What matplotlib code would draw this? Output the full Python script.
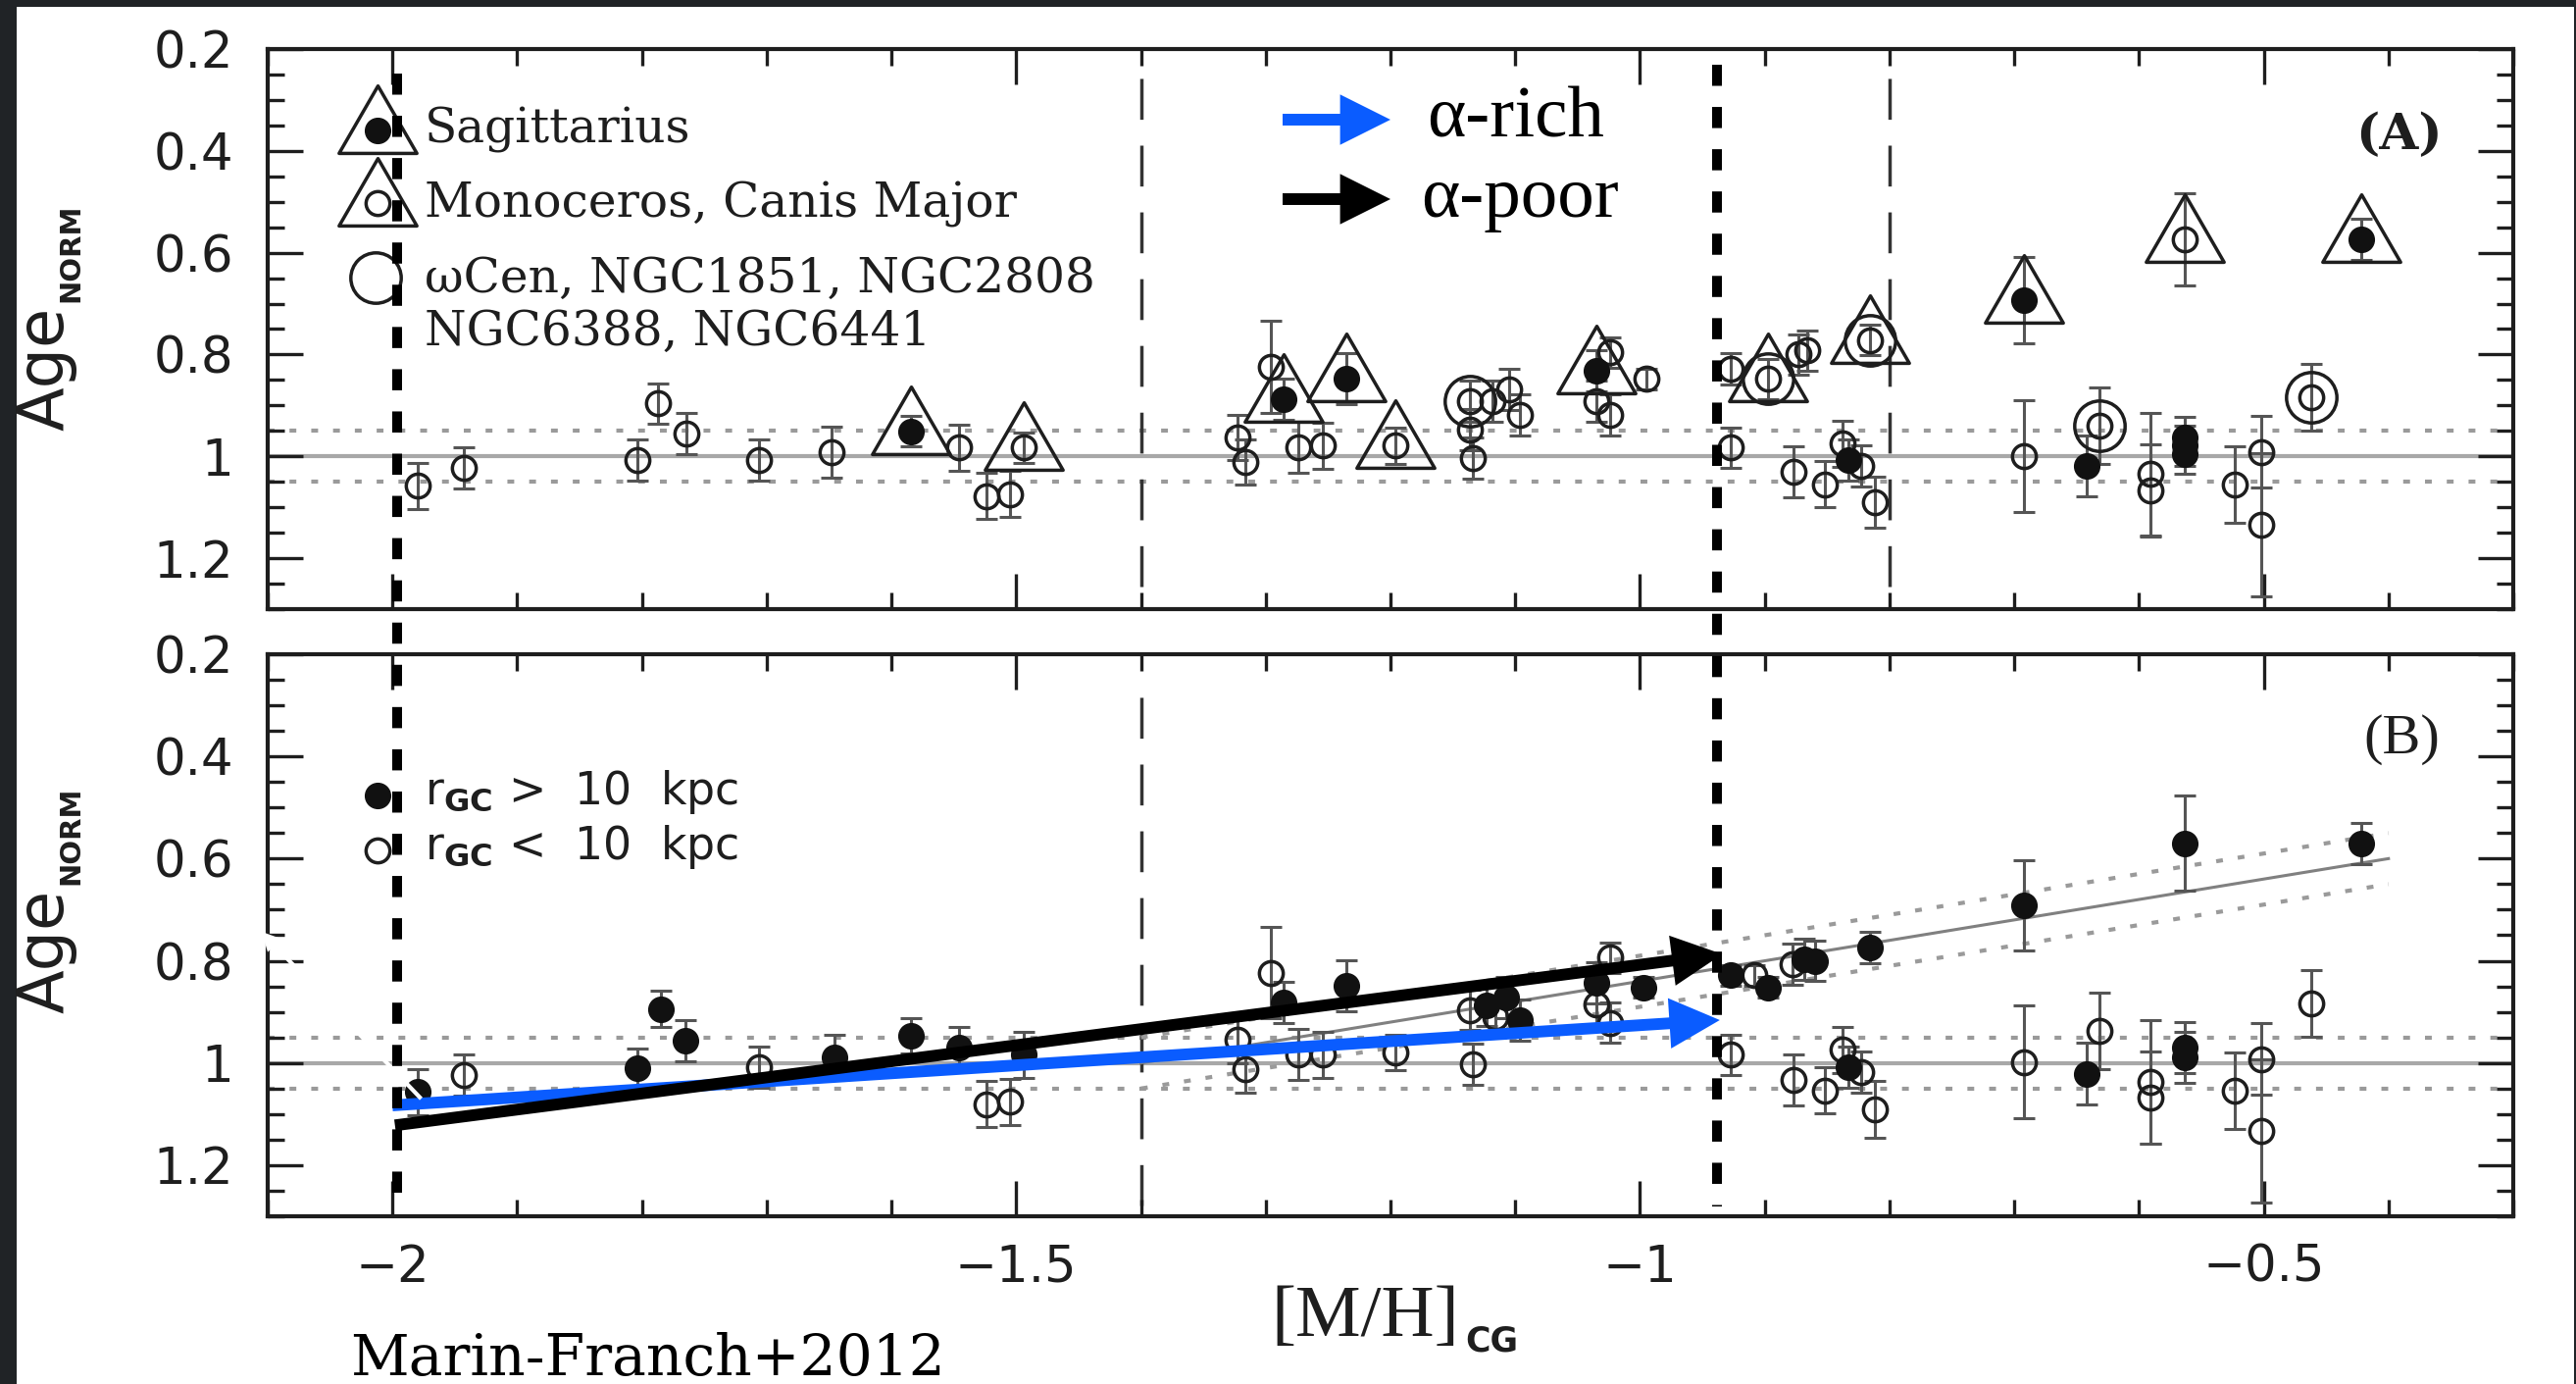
import matplotlib
matplotlib.use("Agg")
import matplotlib.pyplot as plt
import matplotlib.transforms as mtransforms
from matplotlib.path import Path
from matplotlib.patches import Rectangle, FancyArrowPatch
from matplotlib.lines import Line2D

W, H = 2627, 1411

# ---------------- data ----------------
# panel A: open circles
a_open_x = [-1.980, -1.943, -1.804, -1.787, -1.764, -1.706, -1.648, -1.546, -1.524, -1.505,
            -1.494, -1.323, -1.316, -1.296, -1.274, -1.254, -1.196, -1.136, -1.136, -1.134,
            -1.118, -1.105, -1.096, -1.024, -1.035, -1.024, -0.995, -0.927, -0.927, -0.897,
            -0.873, -0.866, -0.816, -0.877, -0.852, -0.838, -0.823, -0.812, -0.692, -0.632,
            -0.591, -0.591, -0.563, -0.462, -0.523, -0.502, -0.502]
a_open_y = [1.058, 1.023, 1.007, 0.896, 0.955, 1.007, 0.991, 0.983, 1.078, 1.074,
            0.983, 0.963, 1.011, 0.824, 0.983, 0.979, 0.979, 0.892, 0.947, 1.003,
            0.892, 0.868, 0.919, 0.796, 0.892, 0.919, 0.848, 0.983, 0.828, 0.848,
            0.800, 0.792, 0.772, 1.031, 1.055, 0.975, 1.019, 1.090, 0.999, 0.939,
            1.035, 1.067, 0.574, 0.884, 1.055, 0.991, 1.134]
a_open_err = [0.045, 0.04, 0.04, 0.04, 0.04, 0.04, 0.05, 0.045, 0.045, 0.045,
              0.03, 0.045, 0.045, 0.09, 0.05, 0.045, 0.035, 0.04, 0.04, 0.04,
              0.04, 0.04, 0.04, 0.03, 0.04, 0.04, 0.02, 0.04, 0.03, 0.04,
              0.04, 0.04, 0.03, 0.05, 0.045, 0.045, 0.04, 0.05, 0.11, 0.075,
              0.12, 0.09, 0.09, 0.065, 0.075, 0.07, 0.14]
# panel A: filled circles
a_fill_x = [-1.584, -1.286, -1.235, -1.035, -0.692, -0.422, -0.642, -0.563, -0.563, -0.563, -0.833]
a_fill_y = [0.951, 0.888, 0.848, 0.832, 0.693, 0.574, 1.019, 0.963, 0.979, 0.995, 1.007]
a_fill_err = [0.03, 0.04, 0.05, 0.04, 0.085, 0.04, 0.06, 0.04, 0.04, 0.04, 0.04]
# triangles (Sagittarius / Monoceros-Canis Major) and big rings
sgr_x = [-1.584, -1.286, -1.235, -1.035, -0.692, -0.422]
sgr_y = [0.951, 0.888, 0.848, 0.832, 0.693, 0.574]
mon_x = [-1.494, -1.196, -0.897, -0.816, -0.563]
mon_y = [0.983, 0.979, 0.848, 0.772, 0.574]
ring_x = [-1.136, -0.897, -0.816, -0.632, -0.462]
ring_y = [0.892, 0.848, 0.772, 0.939, 0.884]

# panel B: r_GC > 10 kpc (filled)
b_fill_x = [-1.980, -1.804, -1.785, -1.765, -1.646, -1.584, -1.546, -1.494, -1.286, -1.235,
            -1.123, -1.107, -1.096, -1.035, -0.997, -0.927, -0.897, -0.868, -0.860, -0.816,
            -0.833, -0.692, -0.642, -0.563, -0.563, -0.563, -0.422]
b_fill_y = [1.057, 1.011, 0.894, 0.957, 0.989, 0.947, 0.969, 0.984, 0.882, 0.848,
            0.887, 0.872, 0.916, 0.843, 0.852, 0.828, 0.852, 0.797, 0.800, 0.774,
            1.008, 0.692, 1.021, 0.570, 0.969, 0.989, 0.570]
b_fill_err = [0.045, 0.04, 0.035, 0.04, 0.045, 0.035, 0.04, 0.045, 0.04, 0.05,
              0.04, 0.04, 0.04, 0.04, 0.02, 0.02, 0.02, 0.04, 0.04, 0.03,
              0.04, 0.088, 0.06, 0.093, 0.05, 0.05, 0.04]
# panel B: r_GC < 10 kpc (open)
b_open_x = [-1.943, -1.706, -1.524, -1.505, -1.323, -1.316, -1.296, -1.274, -1.254, -1.196,
            -1.136, -1.134, -1.116, -1.024, -1.035, -1.024, -0.927, -0.908, -0.878, -0.877,
            -0.852, -0.838, -0.823, -0.812, -0.692, -0.632, -0.591, -0.591, -0.462, -0.523,
            -0.502, -0.502]
b_open_y = [1.023, 1.008, 1.081, 1.076, 0.955, 1.013, 0.823, 0.984, 0.984, 0.979,
            0.896, 1.003, 0.911, 0.794, 0.886, 0.921, 0.984, 0.828, 0.807, 1.033,
            1.054, 0.974, 1.018, 1.091, 0.998, 0.938, 1.037, 1.067, 0.884, 1.054,
            0.992, 1.133]
b_open_err = [0.04, 0.04, 0.045, 0.045, 0.045, 0.045, 0.09, 0.05, 0.045, 0.035,
              0.04, 0.04, 0.04, 0.03, 0.04, 0.04, 0.04, 0.02, 0.04, 0.05,
              0.045, 0.045, 0.04, 0.055, 0.11, 0.075, 0.12, 0.09, 0.065, 0.075,
              0.07, 0.14]

# linear trend in panel B and its band
fit_x = [-1.4, -0.4]
fit_y = [1.0, 0.6]
fit_band = 0.05

# overlay arrows: (start, end) in [M/H], Age
blue_arrow = [(-2.0, 1.083), (-0.936, 0.916)]
black_arrow = [(-1.998, 1.122), (-0.934, 0.787)]
white_arrow = [(-1.977, 1.07), (-2.105, 0.743)]
vline_x = [-1.996, -0.938]
boundary_x = [-1.4, -0.8]

xtick_vals = [-2, -1.5, -1, -0.5]
xtick_labels = ["\u22122", "\u22121.5", "\u22121", "\u22120.5"]
ytick_vals = [0.2, 0.4, 0.6, 0.8, 1.0, 1.2]
ytick_labels = ["0.2", "0.4", "0.6", "0.8", "1", "1.2"]

plt.rcParams["lines.scale_dashes"] = False
plt.rcParams["mathtext.fontset"] = "dejavusans"

INK = "#1e1e1e"
GRAY = "#555555"


def fx(px):
    return px / W


def fy(py):
    return 1 - py / H


fig = plt.figure(figsize=(W / 100, H / 100), dpi=100)
fig.patch.set_facecolor("#202326")
fig.add_artist(Rectangle((fx(17), 0), fx(2625) - fx(17), fy(7), transform=fig.transFigure,
                         facecolor="white", edgecolor="none", zorder=-10))

ax_a = fig.add_axes([fx(273), fy(621), fx(2563) - fx(273), fy(50) - fy(621)])
ax_b = fig.add_axes([fx(273), fy(1240), fx(2563) - fx(273), fy(667) - fy(1240)])

tri = Path([(0, 1), (-0.866, -0.5), (0.866, -0.5), (0, 1)],
           [Path.MOVETO, Path.LINETO, Path.LINETO, Path.CLOSEPOLY])

for ax in (ax_a, ax_b):
    ax.set_xlim(-2.1, -0.3)
    ax.set_ylim(1.3, 0.2)
    ax.set_xticks(xtick_vals)
    ax.set_xticks([-2.1 + 0.1 * i for i in range(19)], minor=True)
    ax.set_yticks(ytick_vals)
    ax.set_yticks([0.2 + 0.05 * i for i in range(23)], minor=True)
    ax.set_yticklabels(ytick_labels, fontsize=37, family="DejaVu Sans", color=INK)
    ax.tick_params(which="both", direction="in", top=True, right=True, width=2.4, color=INK)
    ax.tick_params(which="major", length=26)
    ax.tick_params(which="minor", length=12)
    ax.tick_params(axis="y", pad=25)
    ax.tick_params(axis="x", pad=20)
    for s in ax.spines.values():
        s.set_linewidth(3)
        s.set_color(INK)
    ax.axhline(1.0, color="#a8a8a8", lw=3, zorder=1)
    for yy in (0.95, 1.05):
        ax.axhline(yy, color="#9a9a9a", lw=3, ls=(0, (5, 11)), zorder=1)

ax_a.set_xticklabels([])
ax_b.set_xticklabels(xtick_labels, fontsize=37, family="DejaVu Sans", color=INK)

# thin long-dashed boundaries of the original figure
for xb in boundary_x:
    ax_a.axvline(xb, ymin=0.04, ymax=0.95, color="#333333", lw=2.5, ls=(0, (30, 19)), zorder=1)
ax_b.axvline(boundary_x[0], ymin=0.02, ymax=0.96, color="#333333", lw=2.5, ls=(0, (30, 19)), zorder=1)

# trend line + band in panel B
ax_b.plot(fit_x, fit_y, color="#808080", lw=2.2, zorder=1)
for sgn in (-1, 1):
    ax_b.plot(fit_x, [v + sgn * fit_band for v in fit_y], color="#9a9a9a", lw=3,
              ls=(0, (5, 11)), zorder=1)

ms_small = 17.5
err_kw = dict(fmt="none", ecolor=GRAY, elinewidth=2.2, capsize=8, capthick=2.2, zorder=2)

# panel A points
ax_a.errorbar(a_open_x, a_open_y, yerr=a_open_err, **err_kw)
ax_a.errorbar(a_fill_x, a_fill_y, yerr=a_fill_err, **err_kw)
ax_a.plot(a_open_x, a_open_y, ls="none", marker="o", ms=ms_small, mfc="none", mec=INK, mew=2.5, zorder=3)
ax_a.plot(a_fill_x, a_fill_y, ls="none", marker="o", ms=ms_small + 1, mfc="#111111", mec="#111111", zorder=3)
ax_a.plot(sgr_x, sgr_y, ls="none", marker=tri, ms=66, mfc="none", mec=INK, mew=2.5, zorder=4)
ax_a.plot(mon_x, mon_y, ls="none", marker=tri, ms=66, mfc="none", mec=INK, mew=2.5, zorder=4)
ax_a.plot(ring_x, ring_y, ls="none", marker="o", ms=37, mfc="none", mec=INK, mew=2.5, zorder=4)

# panel B points
ax_b.errorbar(b_open_x, b_open_y, yerr=b_open_err, **err_kw)
ax_b.errorbar(b_fill_x, b_fill_y, yerr=b_fill_err, **err_kw)
ax_b.plot(b_open_x, b_open_y, ls="none", marker="o", ms=ms_small, mfc="none", mec=INK, mew=2.5, zorder=3)
ax_b.plot(b_fill_x, b_fill_y, ls="none", marker="o", ms=ms_small + 1, mfc="#111111", mec="#111111", zorder=3)

# in-panel legends of the original figure
tA = ax_a.transAxes
axw = (2563 - 273)
ax_a.plot([(385 - 273) / axw], [(621 - 133) / 571], marker=tri, ms=66, mfc="none", mec=INK, mew=2.5,
          transform=tA, clip_on=False, zorder=5)
ax_a.plot([(385 - 273) / axw], [(621 - 133) / 571], marker="o", ms=ms_small + 1, color="#111111",
          transform=tA, clip_on=False, zorder=5)
ax_a.plot([(385 - 273) / axw], [(621 - 207) / 571], marker=tri, ms=66, mfc="none", mec=INK, mew=2.5,
          transform=tA, clip_on=False, zorder=5)
ax_a.plot([(385 - 273) / axw], [(621 - 207) / 571], marker="o", ms=ms_small, mfc="none", mec=INK, mew=2.5,
          transform=tA, clip_on=False, zorder=5)
ax_a.plot([(383 - 273) / axw], [(621 - 283) / 571], marker="o", ms=37, mfc="none", mec=INK, mew=2.5,
          transform=tA, clip_on=False, zorder=5)

leg_font = dict(family="DejaVu Serif", fontsize=35, color=INK, va="center", ha="left")
fig.text(fx(433), fy(133), "Sagittarius", **leg_font)
fig.text(fx(433), fy(208), "Monoceros, Canis Major", **leg_font)
fig.text(fx(433), fy(284), "\u03c9Cen, NGC1851, NGC2808", **leg_font)
fig.text(fx(433), fy(338), "NGC6388, NGC6441", **leg_font)
fig.text(fx(2446), fy(139), "(A)", family="DejaVu Serif", fontsize=37, weight="bold", color=INK,
         ha="center", va="center")
fig.text(fx(2449), fy(754), "(B)", family="Liberation Serif", fontsize=42, color=INK, ha="center", va="center")

tB = ax_b.transAxes
ax_b.plot([(385 - 273) / axw], [(1240 - 811) / 573], marker="o", ms=ms_small + 1, color="#111111",
          transform=tB, clip_on=False, zorder=5)
ax_b.plot([(385 - 273) / axw], [(1240 - 867) / 573], marker="o", ms=ms_small, mfc="none", mec=INK, mew=2.5,
          transform=tB, clip_on=False, zorder=5)
rfont = dict(family="DejaVu Sans", fontsize=33, color=INK, va="center", ha="left")
fig.text(fx(433), fy(808), r"r$_{\mathbf{GC}}$ >  10  kpc", **rfont)
fig.text(fx(433), fy(864), r"r$_{\mathbf{GC}}$ <  10  kpc", **rfont)

# axis labels
for yc in (376, 970):
    fig.text(fx(46), fy(yc), "Age", family="DejaVu Sans", fontsize=47, color=INK,
             rotation=90, ha="center", va="center")
    fig.text(fx(72), fy(yc - 118), "NORM", family="DejaVu Sans", fontsize=21, weight="bold",
             color=INK, rotation=90, ha="center", va="center")
fig.text(fx(1296), fy(1362), "[M/H]", family="Liberation Serif", fontsize=54, color=INK,
         ha="left", va="baseline")
fig.text(fx(1494), fy(1378), "CG", family="DejaVu Sans", fontsize=25, weight="bold", color=INK,
         ha="left", va="baseline")
fig.text(fx(357), fy(1402), "Marin-Franch+2012", family="DejaVu Serif", fontsize=42, color="black",
         ha="left", va="baseline")

# thick dotted verticals spanning both panels
blend = mtransforms.blended_transform_factory(ax_b.transData, fig.transFigure)
for xv, ytop, ybot in zip(vline_x, (75, 66), (1235, 1230)):
    fig.add_artist(Line2D([xv, xv], [fy(ytop), fy(ybot)], transform=blend, color="black",
                          lw=7.2, ls=(0, (15.5, 15.5)), solid_capstyle="butt", dash_capstyle="butt",
                          zorder=20))

# overlay arrows
arrow_style = "simple,head_length=37,head_width=37,tail_width=8.6"
for (p0, p1), col in ((blue_arrow, "#0a5cff"), (black_arrow, "black")):
    ax_b.add_patch(FancyArrowPatch(p0, p1, arrowstyle=arrow_style, mutation_scale=1, color=col,
                                   lw=0, shrinkA=0, shrinkB=0, zorder=15, clip_on=False))
ax_b.add_patch(FancyArrowPatch(white_arrow[0], white_arrow[1],
                               arrowstyle="simple,head_length=14,head_width=14,tail_width=3",
                               mutation_scale=1, color="white", lw=0, shrinkA=0, shrinkB=0,
                               zorder=25, clip_on=False))

# legend arrows for alpha-rich / alpha-poor
for yc, col, lab, tx in ((122, "#0a5cff", "\u03b1-rich", 1455), (203, "black", "\u03b1-poor", 1449)):
    fig.add_artist(FancyArrowPatch((fx(1308), fy(yc)), (fx(1418), fy(yc)), transform=fig.transFigure,
                                   arrowstyle=arrow_style, mutation_scale=1, color=col, lw=0,
                                   shrinkA=0, shrinkB=0, zorder=15))
    fig.text(fx(tx), fy(yc), lab, family="Liberation Serif", fontsize=54, color="black",
             ha="left", va="center")

fig.savefig("out.png", dpi=100, facecolor=fig.get_facecolor())
